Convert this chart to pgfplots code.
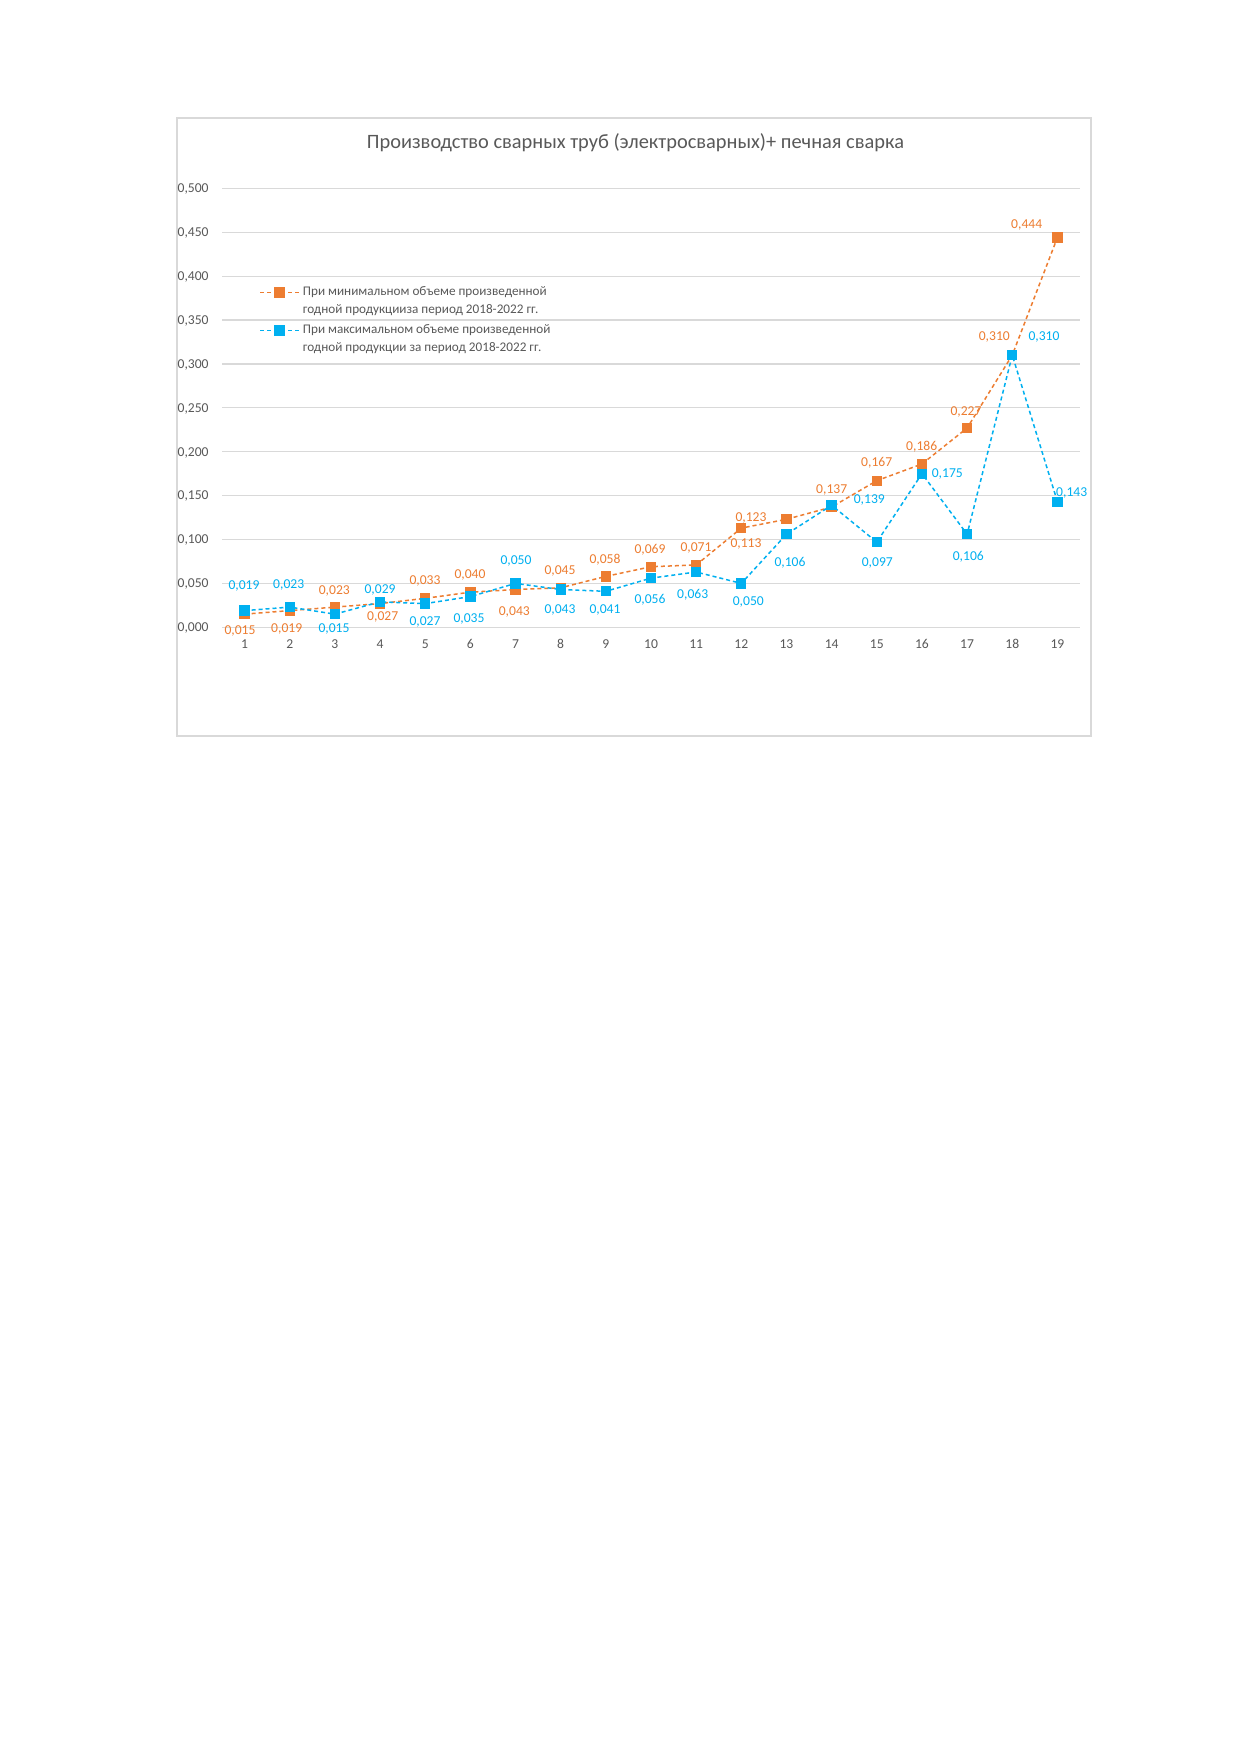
\documentclass[border=0pt]{standalone}
\usepackage{pgfplots}
\pgfplotsset{compat=1.18}
\usepackage{fontspec}
\setmainfont{Carlito}
\definecolor{cOr}{HTML}{ED7D31}
\definecolor{cBl}{HTML}{00B0F0}
\definecolor{cTx}{HTML}{595959}
\definecolor{cGr}{HTML}{D9D9D9}
\begin{document}
\begin{tikzpicture}
\useasboundingbox[fill=white] (0,0) rectangle (620pt,-877pt);
\draw[cGr, line width=0.6pt] (88.5pt,-59pt) rectangle (545.5pt,-368pt);
\node[text=cTx, font=\fontsize{10.2}{12}\selectfont, anchor=base, inner sep=0pt] at (317.75pt,-74.5pt) {Производство сварных труб (электросварных)+ печная сварка};
\begin{axis}[
  at={(111pt,-313.65pt)}, anchor=south west,
  scale only axis, width=429pt, height=219.5pt,
  xmin=0.5, xmax=19.5, ymin=0, ymax=0.5,
  clip=false,
  axis line style={draw=none},
  major tick length=0pt,
  ymajorgrids, grid style={cGr, line width=0.6pt},
  xtick={1,2,...,19},
  ytick={0,0.05,0.1,0.15,0.2,0.25,0.3,0.35,0.4,0.45,0.5},
  scaled y ticks=false,
  /pgf/number format/use comma,
  /pgf/number format/assume math mode=true,
  yticklabel style={/pgf/number format/fixed, /pgf/number format/fixed zerofill, /pgf/number format/precision=3,
    anchor=east, inner sep=0pt, xshift=-6.5pt, text height=4.3pt, text depth=0pt},
  xticklabel style={anchor=center, inner sep=0pt, yshift=-8.5pt, text height=4.3pt, text depth=0pt},
  tick label style={text=cTx, font=\fontsize{6.8}{8}\selectfont},
  legend style={at={(0.0431,0.777)}, anchor=north west, draw=none, fill=none, inner sep=0pt,
    row sep=4.2pt, font=\fontsize{6.6}{8.8}\selectfont, text=cTx,
    nodes={align=left, inner sep=0pt}, cells={anchor=west},
    /tikz/every odd column/.append style={column sep=1.5pt}},
  legend image code/.code={\draw[mark repeat=2, mark phase=2, #1, yshift=4.4pt] plot coordinates {(0pt,0pt) (9.75pt,0pt) (19.5pt,0pt)};},
  nodes near coords align={center},
  every node near coord/.append style={font=\fontsize{6.8}{8}\selectfont, inner sep=0pt, text height=4.3pt, text depth=0pt},
]
\addplot[cOr, line width=0.75pt, dash pattern=on 2pt off 1.5pt, mark=square*, mark size=2.2pt, mark options={solid, fill=cOr, draw=cOr}] table[x=x, y=y] {
x y
1 0.015
2 0.019
3 0.023
4 0.027
5 0.033
6 0.040
7 0.043
8 0.045
9 0.058
10 0.069
11 0.071
12 0.113
13 0.123
14 0.137
15 0.167
16 0.186
17 0.227
18 0.310
19 0.444
};
\addlegendentry{При минимальном объеме произведенной\\годной продукцииза период 2018-2022 гг.}
\addplot[cBl, line width=0.75pt, dash pattern=on 2pt off 1.5pt, mark=square*, mark size=2.2pt, mark options={solid, fill=cBl, draw=cBl}] table[x=x, y=y] {
x y
1 0.019
2 0.023
3 0.015
4 0.029
5 0.027
6 0.035
7 0.050
8 0.043
9 0.041
10 0.056
11 0.063
12 0.050
13 0.106
14 0.139
15 0.097
16 0.175
17 0.106
18 0.310
19 0.143
};
\addlegendentry{При максимальном объеме произведенной\\годной продукции за период 2018-2022 гг.}
\addplot[draw=none, mark=none, forget plot, nodes near coords, point meta=explicit symbolic,
  every node near coord/.append style={text=cOr}] table[x=x, y=y, meta=label] {
x y label
0.899 -0.0031 0,015
1.933 -0.0011 0,019
2.987 0.0425 0,023
4.059 0.0121 0,027
4.995 0.0531 0,033
5.992 0.0607 0,040
6.973 0.0186 0,043
7.985 0.0645 0,045
8.981 0.0774 0,058
9.978 0.0888 0,069
10.997 0.0911 0,071
12.104 0.0957 0,113
12.214 0.1253 0,123
14.001 0.1575 0,137
14.998 0.1875 0,167
15.994 0.2057 0,186
16.975 0.2467 0,227
17.602 0.331 0,310
18.32 0.459 0,444
};
\addplot[draw=none, mark=none, forget plot, nodes near coords, point meta=explicit symbolic,
  every node near coord/.append style={text=cBl}] table[x=x, y=y, meta=label] {
x y label
0.987 0.0474 0,019
1.977 0.049 0,023
2.980 -0.0011 0,015
4.0 0.0433 0,029
4.995 0.0072 0,027
5.970 0.0103 0,035
7.010 0.0759 0,050
7.985 0.0205 0,043
8.981 0.0205 0,041
9.978 0.0322 0,056
10.923 0.0379 0,063
12.155 0.030 0,050
13.078 0.074 0,106
14.834 0.1458 0,139
15.011 0.0747 0,097
16.561 0.1754 0,175
17.026 0.0812 0,106
18.703 0.331 0,310
19.316 0.1544 0,143
};
\end{axis}
\end{tikzpicture}
\end{document}
